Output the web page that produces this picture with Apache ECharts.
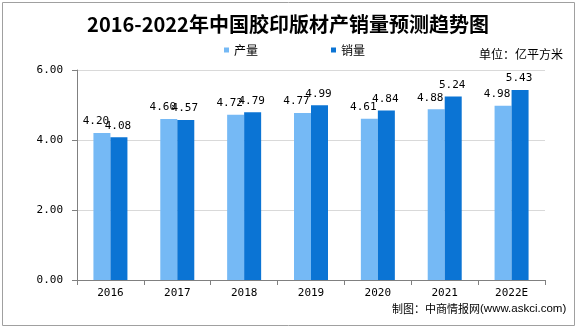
<!DOCTYPE html>
<html><head><meta charset="utf-8">
<script src="https://cdn.jsdelivr.net/npm/echarts@6/dist/echarts.min.js"></script>
<style>html,body{margin:0;padding:0;background:#fff}#c{width:576px;height:326px}</style>
</head><body><div id="c"></div>
<script>
const categories = ['2016','2017','2018','2019','2020','2021','2022E'];
const production = [4.20,4.60,4.72,4.77,4.61,4.88,4.98];
const sales = [4.08,4.57,4.79,4.99,4.84,5.24,5.43];
const yTicks = {min:0,max:6,interval:2};
const chart = echarts.init(document.getElementById('c'));
const mono = 'DejaVu Sans Mono, Liberation Mono, monospace';
const lbl = {show:true,position:'top',distance:6,color:'#000',fontFamily:mono,fontSize:11,formatter:p=>p.value.toFixed(2)};
chart.setOption({
  animation:false,
  title:{text:'2016-2022年中国胶印版材产销量预测趋势图',left:'center',top:9,textStyle:{fontFamily:'Noto Sans CJK SC',fontSize:20,fontWeight:'bold',color:'#000'}},
  legend:{top:39,left:219,itemGap:73,itemWidth:5,itemHeight:5,icon:'rect',textStyle:{fontFamily:'Noto Sans CJK SC',fontSize:12,color:'#000'},data:['产量','销量']},
  graphic:[
    {type:'rect',left:0,top:0,shape:{x:0,y:0,width:572,height:323},style:{fill:'none',stroke:'#a0a0a0',lineWidth:1}},
    {type:'text',left:479,top:48,style:{text:'单位：亿平方米',fontFamily:'Noto Sans CJK SC',fontSize:12,fill:'#000'}},
    {type:'text',left:392,top:303,style:{rich:{a:{fontFamily:'Noto Sans CJK SC',fontSize:11,color:'#000'},b:{fontFamily:'Liberation Sans',fontSize:11.5,color:'#1f3a93'}},text:'{a|制图：中商情报网}{b|(www.askci.com)}'}}
  ],
  grid:{left:77,right:31,top:70,bottom:46},
  xAxis:{type:'category',data:categories,axisLine:{lineStyle:{color:'#808080'}},axisTick:{show:true,lineStyle:{color:'#808080'}},axisLabel:{color:'#000',fontFamily:mono,fontSize:11,margin:8}},
  yAxis:{type:'value',min:yTicks.min,max:yTicks.max,interval:yTicks.interval,axisLine:{show:true,lineStyle:{color:'#808080'}},axisTick:{show:true,lineStyle:{color:'#808080'}},splitLine:{lineStyle:{color:'#d9d9d9'}},axisLabel:{color:'#000',fontFamily:mono,fontSize:11,formatter:v=>v.toFixed(2),margin:14}},
  series:[
    {name:'产量',type:'bar',data:production,barWidth:17,barGap:'0%',itemStyle:{color:'#75b9f5'},label:Object.assign({},lbl,{offset:[-6,0]})},
    {name:'销量',type:'bar',data:sales,barWidth:17,itemStyle:{color:'#0b74d4'},label:Object.assign({},lbl,{offset:[-1,0]})}
  ]
});
</script></body></html>
